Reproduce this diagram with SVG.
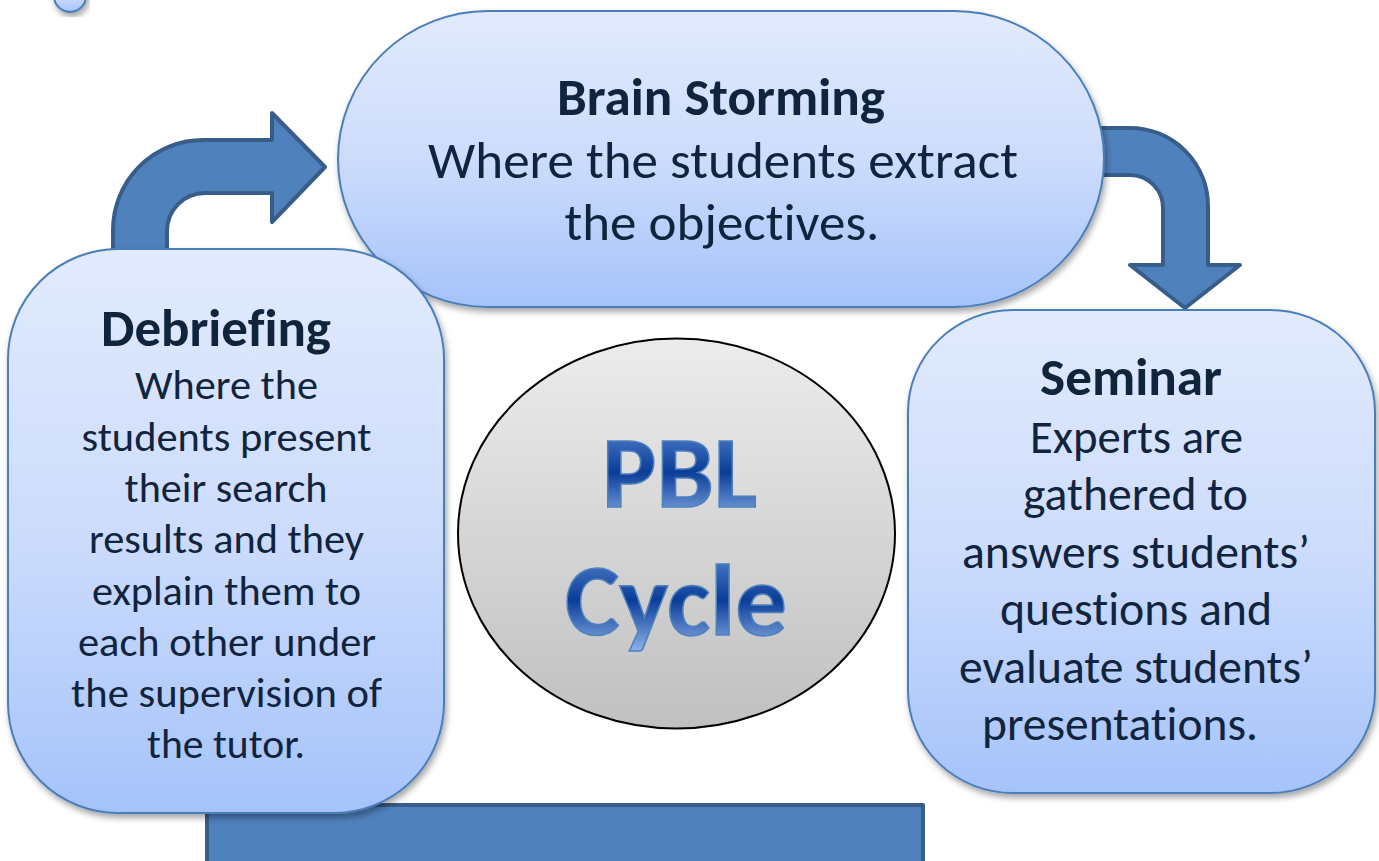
<svg xmlns="http://www.w3.org/2000/svg" width="1379" height="861" viewBox="0 0 1379 861">
<defs>
<linearGradient id="nodeGrad" x1="0" y1="0" x2="0" y2="1">
<stop offset="0" stop-color="#e2ebfd"/>
<stop offset="0.5" stop-color="#cddcfc"/>
<stop offset="1" stop-color="#a5c3fa"/>
</linearGradient>
<linearGradient id="circGrad" x1="0" y1="0" x2="0" y2="1">
<stop offset="0" stop-color="#ececec"/>
<stop offset="1" stop-color="#c0c0c0"/>
</linearGradient>
<linearGradient id="pblGrad" x1="0" y1="0" x2="0" y2="1">
<stop offset="0" stop-color="#6a98de"/>
<stop offset="0.5" stop-color="#0a3d98"/>
<stop offset="1" stop-color="#a9c9fa"/>
</linearGradient>
<filter id="shadow" x="-10%" y="-10%" width="120%" height="125%">
<feDropShadow dx="2" dy="4" stdDeviation="3" flood-color="#000" flood-opacity="0.35"/>
</filter>
</defs>
<style>
.node{fill:url(#nodeGrad);stroke:#4a7ebb;stroke-width:2;filter:url(#shadow)}
.arrow{fill:#4f81bd;stroke:#385d8a;stroke-width:4;stroke-linejoin:round}
.t{font-family:Carlito,Lato,"Liberation Sans",sans-serif;fill:#10243e;text-anchor:middle;font-variant-ligatures:none;font-feature-settings:"liga" 0,"clig" 0}
.title{font-weight:bold;font-size:53px}
.pbl{font-family:Carlito,Lato,"Liberation Sans",sans-serif;font-weight:bold;font-size:102px;fill:url(#pblGrad);stroke:#4f81bd;stroke-width:1.5;text-anchor:middle}
</style>
<rect width="1379" height="861" fill="#ffffff"/>
<g id="connectors">
<path class="arrow" d="M 113 260 L 113 230 A 90 90 0 0 1 203 140 L 272 140 L 272 113 L 325 167 L 272 222 L 272 193 L 205 193 A 38 38 0 0 0 167 231 L 167 260 Z"/>
<path class="arrow" d="M 1090 128 L 1130 128 A 78 78 0 0 1 1208 206 L 1208 265 L 1240 265 L 1185 308 L 1130 265 L 1163 265 L 1163 208 A 33 33 0 0 0 1130 175 L 1090 175 Z"/>
<rect class="arrow" x="207" y="805" width="716" height="62"/>
</g>
<g id="dot">
<circle class="node" cx="70" cy="-4" r="16"/>
</g>
<g id="brainstorming">
<rect class="node" x="338" y="11" width="766" height="296" rx="150" ry="148"/>
<text class="t title" x="721" y="115" textLength="328" lengthAdjust="spacingAndGlyphs">Brain Storming</text>
<text class="t" font-size="52" x="723" y="178" textLength="590" lengthAdjust="spacingAndGlyphs">Where the students extract</text>
<text class="t" font-size="52" x="722" y="240" textLength="315" lengthAdjust="spacingAndGlyphs">the objectives.</text>
</g>
<g id="debriefing">
<rect class="node" x="8" y="249" width="436" height="564" rx="110" ry="110"/>
<text class="t title" x="216" y="346" textLength="230" lengthAdjust="spacingAndGlyphs">Debriefing</text>
<text class="t" font-size="42" x="226.5" y="399" textLength="183" lengthAdjust="spacingAndGlyphs">Where the</text>
<text class="t" font-size="42" x="226.5" y="451" textLength="290" lengthAdjust="spacingAndGlyphs">students present</text>
<text class="t" font-size="42" x="226" y="502" textLength="203" lengthAdjust="spacingAndGlyphs">their search</text>
<text class="t" font-size="42" x="226.5" y="553" textLength="275" lengthAdjust="spacingAndGlyphs">results and they</text>
<text class="t" font-size="42" x="226.5" y="605" textLength="269" lengthAdjust="spacingAndGlyphs">explain them to</text>
<text class="t" font-size="42" x="227" y="656" textLength="298" lengthAdjust="spacingAndGlyphs">each other under</text>
<text class="t" font-size="42" x="226.5" y="707" textLength="311" lengthAdjust="spacingAndGlyphs">the supervision of</text>
<text class="t" font-size="42" x="226" y="758" textLength="158" lengthAdjust="spacingAndGlyphs">the tutor.</text>
</g>
<g id="seminar">
<rect class="node" x="908" y="310" width="467" height="483" rx="105" ry="102"/>
<text class="t title" x="1131" y="395" textLength="182" lengthAdjust="spacingAndGlyphs">Seminar</text>
<text class="t" font-size="47" x="1136.5" y="453" textLength="213" lengthAdjust="spacingAndGlyphs">Experts are</text>
<text class="t" font-size="47" x="1135.5" y="510" textLength="225" lengthAdjust="spacingAndGlyphs">gathered to</text>
<text class="t" font-size="47" x="1136" y="568" textLength="348" lengthAdjust="spacingAndGlyphs">answers students’</text>
<text class="t" font-size="47" x="1136" y="625" textLength="272" lengthAdjust="spacingAndGlyphs">questions and</text>
<text class="t" font-size="47" x="1136" y="683" textLength="354" lengthAdjust="spacingAndGlyphs">evaluate students’</text>
<text class="t" font-size="47" x="1120" y="740" textLength="276" lengthAdjust="spacingAndGlyphs">presentations.</text>
</g>
<g id="pbl-cycle">
<ellipse cx="676.5" cy="533.5" rx="218.5" ry="195" fill="url(#circGrad)" stroke="#000" stroke-width="2"/>
<text class="pbl" x="679.5" y="507" textLength="155" lengthAdjust="spacingAndGlyphs">PBL</text>
<text class="pbl" x="676" y="635" textLength="222" lengthAdjust="spacingAndGlyphs">Cycle</text>
</g>
</svg>
